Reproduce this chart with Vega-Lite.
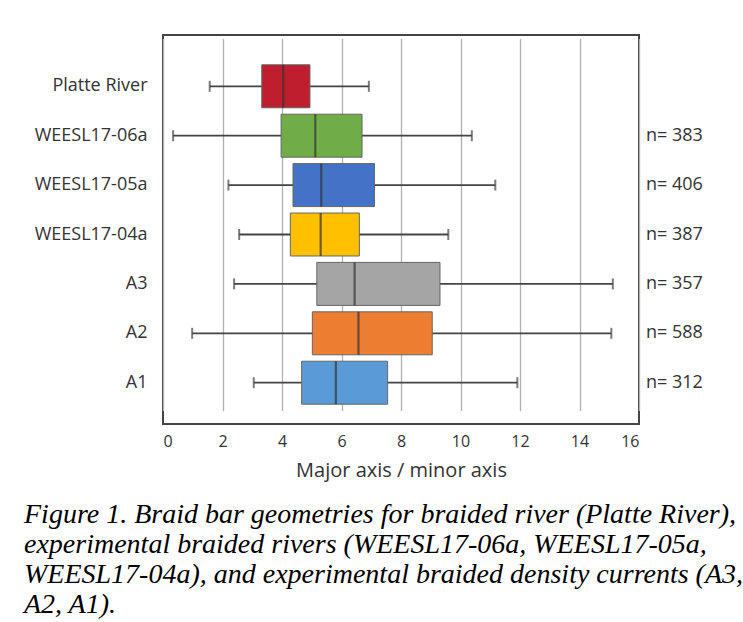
{
  "$schema": "https://vega.github.io/schema/vega-lite/v6.json",
  "width": 476,
  "height": 389,
  "autosize": {"type": "none"},
  "padding": {"left": 163, "top": 35, "right": 104, "bottom": 198},
  "background": "white",
  "title": {
    "text": [
      "Figure 1. Braid bar geometries for braided river (Platte River),",
      "experimental braided rivers (WEESL17-06a, WEESL17-05a,",
      "WEESL17-04a), and experimental braided density currents (A3,",
      "A2, A1)."
    ],
    "orient": "bottom",
    "anchor": "start",
    "frame": "group",
    "dx": -139,
    "offset": 21,
    "font": "Liberation Serif",
    "fontStyle": "italic",
    "fontWeight": "normal",
    "fontSize": 28,
    "lineHeight": 30,
    "color": "#000000"
  },
  "data": {
    "values": [
      {"cat": "Platte River", "lo": 1.57, "q1": 3.32, "med": 4.04, "q3": 4.94, "hi": 6.92, "n": null},
      {"cat": "WEESL17-06a", "lo": 0.34, "q1": 3.97, "med": 5.12, "q3": 6.69, "hi": 10.38, "n": 383},
      {"cat": "WEESL17-05a", "lo": 2.2, "q1": 4.37, "med": 5.32, "q3": 7.11, "hi": 11.17, "n": 406},
      {"cat": "WEESL17-04a", "lo": 2.56, "q1": 4.28, "med": 5.3, "q3": 6.6, "hi": 9.59, "n": 387},
      {"cat": "A3", "lo": 2.39, "q1": 5.17, "med": 6.44, "q3": 9.31, "hi": 15.12, "n": 357},
      {"cat": "A2", "lo": 0.98, "q1": 5.02, "med": 6.57, "q3": 9.05, "hi": 15.07, "n": 588},
      {"cat": "A1", "lo": 3.05, "q1": 4.66, "med": 5.81, "q3": 7.55, "hi": 11.91, "n": 312}
    ]
  },
  "encoding": {
    "y": {
      "field": "cat",
      "type": "nominal",
      "sort": null,
      "scale": {"paddingInner": 0.13, "paddingOuter": 0.33, "range": [13.5, 385.5]},
      "axis": {
        "title": null,
        "domain": false,
        "ticks": false,
        "labelPadding": 16,
        "labelFont": "Open Sans",
        "labelFontSize": 18,
        "labelColor": "#333333"
      }
    }
  },
  "layer": [
    {
      "mark": {"type": "rule", "color": "#444444", "strokeWidth": 1.8},
      "encoding": {
        "x": {
          "field": "lo",
          "type": "quantitative",
          "title": "Major axis / minor axis",
          "scale": {"domain": [0, 16], "nice": false, "zero": false},
          "axis": {
            "values": [0, 2, 4, 6, 8, 10, 12, 14, 16],
            "grid": true,
            "gridColor": "#b0b0b0",
            "gridWidth": 1.3,
            "domain": false,
            "ticks": false,
            "labelFont": "Open Sans",
            "labelFontSize": 16,
            "labelColor": "#333333",
            "labelPadding": 9,
            "title": "Major axis / minor axis",
            "titleFont": "Open Sans",
            "titleFontSize": 20,
            "titleFontWeight": "normal",
            "titleColor": "#333333",
            "titlePadding": 11
          }
        },
        "x2": {"field": "hi"}
      }
    },
    {
      "mark": {"type": "tick", "color": "#444444", "thickness": 2, "size": 11},
      "encoding": {"x": {"field": "lo", "type": "quantitative", "title": "Major axis / minor axis"}}
    },
    {
      "mark": {"type": "tick", "color": "#444444", "thickness": 2, "size": 11},
      "encoding": {"x": {"field": "hi", "type": "quantitative", "title": "Major axis / minor axis"}}
    },
    {
      "mark": {"type": "bar", "stroke": "#666666", "strokeWidth": 1},
      "encoding": {
        "x": {"field": "q1", "type": "quantitative", "title": "Major axis / minor axis"},
        "x2": {"field": "q3"},
        "color": {
          "field": "cat",
          "type": "nominal",
          "legend": null,
          "scale": {
            "domain": ["Platte River", "WEESL17-06a", "WEESL17-05a", "WEESL17-04a", "A3", "A2", "A1"],
            "range": ["#BE1E2D", "#70AD47", "#4472C4", "#FFC000", "#A5A5A5", "#ED7D31", "#5B9BD5"]
          }
        }
      }
    },
    {
      "mark": {"type": "tick", "color": "#333333", "thickness": 2.2, "size": 43},
      "encoding": {"x": {"field": "med", "type": "quantitative", "title": "Major axis / minor axis"}}
    },
    {
      "mark": {
        "type": "text",
        "align": "left",
        "baseline": "middle",
        "dx": 7,
        "font": "Open Sans",
        "fontSize": 18,
        "color": "#333333",
        "text": {"expr": "datum.n ? 'n= ' + datum.n : ''"}
      },
      "encoding": {"x": {"datum": 16, "type": "quantitative", "title": "Major axis / minor axis"}}
    }
  ],
  "config": {
    "view": {"stroke": "#444444", "strokeWidth": 2}
  }
}
